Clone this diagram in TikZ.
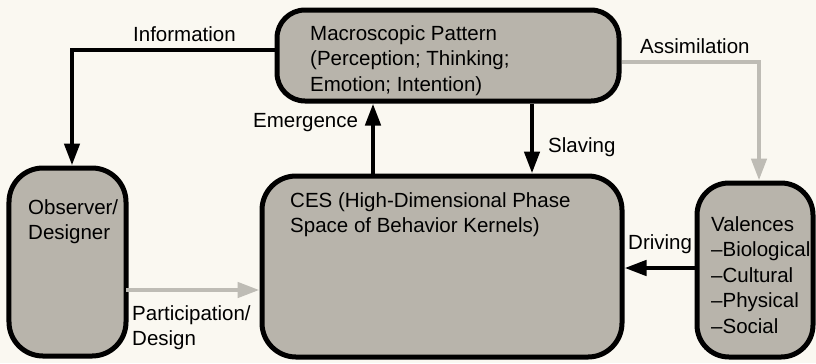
\documentclass[tikz,border=0pt]{standalone}
\usepackage{fontspec}
\setmainfont{Liberation Sans}
\usetikzlibrary{arrows.meta}
\definecolor{boxfill}{RGB}{184,180,171}
\definecolor{paper}{RGB}{250,248,241}
\definecolor{lightarrow}{RGB}{190,188,181}
\begin{document}
\begin{tikzpicture}[x=1bp,y=-1bp,
  box/.style={draw=black, line width=5bp, fill=boxfill, rectangle, inner sep=0pt, rounded corners=#1},
  txt/.style={inner sep=0pt, align=left, font=\fontsize{20.5bp}{25.5bp}\selectfont},
  arr/.style={line width=4.5bp, -{Triangle[length=22bp,width=15bp]}},
  garr/.style={arr, draw=lightarrow}]
\fill[paper] (0,0) rectangle (816,363);
\useasboundingbox (0,0) rectangle (816,363);

% boxes
\node[box=28bp, minimum width=342bp, minimum height=91bp] (macro) at (448,55.5) {};
\node[box=34bp, minimum width=360bp, minimum height=181bp] (ces) at (442,266.5) {};
\node[box=34bp, minimum width=117bp, minimum height=188bp] (obs) at (67.5,262) {};
\node[box=32bp, minimum width=116bp, minimum height=174bp] (val) at (755,270) {};

% box texts
\node[txt, anchor=north west] (macrotext) at (310,25) {Macroscopic Pattern\\(Perception; Thinking;\\Emotion; Intention)};
\node[txt, anchor=north west] (cestext) at (290,192) {CES (High-Dimensional Phase\\Space of Behavior Kernels)};
\node[txt, anchor=north west] (obstext) at (28,199) {Observer/\\Designer};
\node[txt, anchor=north west] (valtext) at (711,216) {Valences\\–Biological\\–Cultural\\–Physical\\–Social};

% connectors
\coordinate (emx) at (373,0);
\coordinate (slx) at (532,0);
\coordinate (drv) at (697,268);
\coordinate (par) at (126,290);
\draw[arr] ([yshift=5.5bp]macro.west) -| ([xshift=4.5bp]obs.north);
\draw[arr] (ces.north -| emx) -- (macro.south -| emx);
\draw[arr] (macro.south -| slx) -- (ces.north -| slx);
\draw[garr] ([yshift=-6.5bp]macro.east) -| ([xshift=4bp]val.north);
\draw[arr] (drv) -- (drv -| ces.east);
\draw[garr] (par) -- (par -| ces.west);

% connector labels
\node[txt, anchor=base west] (infolbl) at (133,41.5) {Information};
\node[txt, anchor=base west] (emlbl) at (253,127) {Emergence};
\node[txt, anchor=base west] (sllbl) at (548,152) {Slaving};
\node[txt, anchor=base west] (aslbl) at (640,53) {Assimilation};
\node[txt, anchor=base west] (drlbl) at (628,249) {Driving};
\node[txt, anchor=north west] (parlbl) at (132,305) {Participation/\\Design};
\end{tikzpicture}
\end{document}
